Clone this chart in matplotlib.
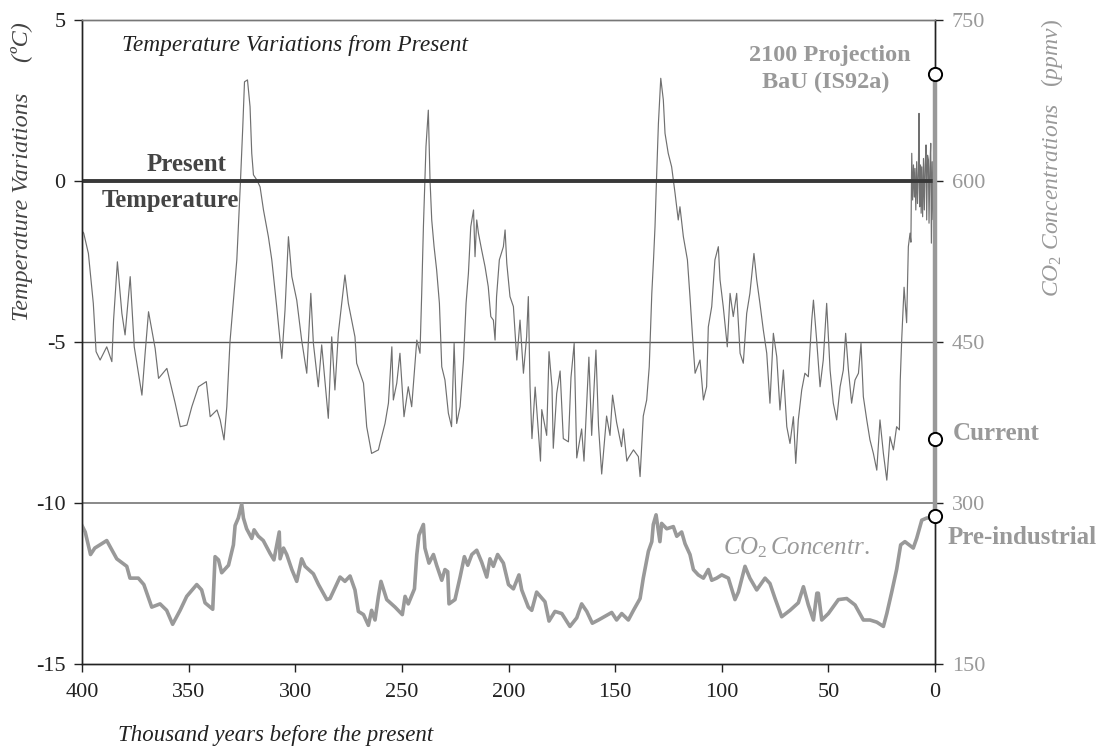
import matplotlib
matplotlib.use("Agg")
import matplotlib.pyplot as plt
import numpy as np

plt.rcParams['font.family'] = ['Liberation Serif', 'DejaVu Serif']
plt.rcParams['mathtext.fontset'] = 'custom'
plt.rcParams['mathtext.it'] = 'Liberation Serif:italic'
plt.rcParams['mathtext.rm'] = 'Liberation Serif'

# Temperature variation from present (deg C) vs age (kyr BP)
temp_age = [400.0, 399.2, 397, 394.7, 393.4, 391.5, 388.4, 386, 385.2, 383.4, 381.3, 379.8, 377.4, 375.5,
            371.9, 370.4, 368.8, 365.7, 364.1, 360.2, 356.3, 353.9, 350.8, 348.5, 345.4, 341.7, 339.9,
            336.7, 335.2, 333.4, 332.1, 330.6, 328.7, 327.4, 325.8, 324.6, 323.8, 322.4, 321.2, 320.4,
            319.6, 318, 316.5, 314.9, 312.6, 311, 308.7, 306.3, 304.8, 303.2, 301.6, 299.3, 297, 294.6,
            292.7, 291.5, 289.2, 287.6, 284.5, 282.9, 281.4, 279.8, 276.7, 275.1, 272, 271.2, 268, 266.5,
            264.2, 261, 260.3, 257.9, 256.3, 254.7, 254, 252.4, 250.9, 249, 247, 245.4, 243, 241.5, 240.7,
            239.9, 238.7, 237.6, 236.8, 236, 234.9, 233.7, 232.4, 231.3, 229.8, 228.2, 226.7, 225.5, 224.3,
            222.7, 221.1, 219.9, 218.8, 217.7, 216.4, 215.7, 214.9, 214.1, 212.6, 211, 209.5, 208.3, 207.1,
            206.3, 205.6, 204.3, 202.4, 201.6, 200.8, 199.3, 197.7, 196.1, 194.6, 193, 191.5, 190.7, 189.9,
            189.0, 187.5, 185.0, 184.4, 182.1, 181.0, 179.6, 179.0, 177.4, 175.8, 174.3, 171.9, 170.7,
            169.2, 168.0, 165.7, 164.6, 162.3, 161.0, 159.0, 157.8, 156.3, 154.0, 152.4, 151.2, 149.3,
            147.0, 146.1, 144.5, 143.8, 141.4, 139.1, 138.3, 136.8, 135.2, 134, 132.8, 132, 131.3, 130.5,
            129.7, 128.6, 127.4,
            126.6, 125.1, 123.5, 121.9, 120.4, 119.6, 118, 116.1, 114.9, 113.6, 112.5, 110.2, 108.6, 107.1,
            106.3, 104.7, 103.2, 101.6, 100.8, 99.3, 97.4, 96.1, 94.6, 93, 91.4, 89.9, 88.3, 86.8, 84.9,
            83.6, 82.1, 80.5, 78.9, 77.4, 75.8, 74.2, 72.7, 71.1, 69.5, 68, 66.4, 65.3, 64.1, 62.5, 61,
            59.4, 57.8, 57, 55.5, 53.9, 52.4, 50.8, 49.2, 47.7, 46.1, 44.5, 43, 41.9, 40.6, 39.1, 37.5,
            35.9, 34.7, 33.6, 32, 30.5, 28.9, 27.3, 25.8, 24.2, 22.6, 21.1, 19.5, 18, 16.7, 16.3, 15.6,
            14.5, 13.3, 12.5, 11.7, 11.3, 10.9, 10.5, 10.1, 9.7, 9.4, 9.0, 8.6, 8.2, 7.8, 7.5, 7.2, 6.8,
            6.5, 6.2, 5.8, 5.4, 5.0, 4.6, 4.2, 3.9, 3.5, 3.1, 2.8, 2.4, 2.0, 1.7, 1.3, 0.9, 0.5, 0.2, 0.0]
temp_val = [-1.55, -1.62, -2.25, -3.80, -5.30, -5.56, -5.15, -5.61, -4.32, -2.51, -4.11, -4.78, -2.97,
            -5.15, -6.65, -5.35, -4.06, -5.20, -6.13, -5.82, -6.90, -7.63, -7.58, -7.01, -6.39, -6.23,
            -7.32, -7.11, -7.42, -8.04, -7.01, -4.99, -3.49, -2.45, -0.18, 1.69, 3.08, 3.14, 2.31, 0.86,
            0.19, 0.03, -0.18, -0.90, -1.73, -2.45, -3.90, -5.51, -4.01, -1.73, -2.97, -3.70, -4.94,
            -5.97, -3.49, -5.04, -6.39, -5.09, -7.37, -4.84, -6.49, -4.73, -2.92, -3.80, -4.84, -5.66,
            -6.28, -7.63, -8.46, -8.35, -8.15, -7.53, -6.90, -5.15, -6.80, -6.28, -5.35, -7.32, -6.39,
            -7.01, -4.94, -5.35, -3.49, -1.42, 1.07, 2.20, 0.03, -1.21, -2.04, -2.76, -3.80, -5.77, -6.18,
            -7.21, -7.63, -5.04, -7.53, -7.01, -5.56, -3.80, -2.87, -1.42, -0.90, -2.35, -1.21, -1.62,
            -2.14, -2.66, -3.28, -4.21, -4.32, -4.94, -3.59, -2.45, -2.04, -1.52, -2.56, -3.59, -3.90,
            -5.56, -4.32, -5.97, -4.84, -3.59, -6.39,
            -8.0, -6.4, -8.7, -7.1, -7.9, -5.3, -6.4, -8.3, -6.6, -5.9, -8.0, -8.1, -6.1,
            -5.04, -8.6, -7.7, -8.7, -5.47, -7.9, -5.25, -7.6, -9.1, -7.3, -7.9, -6.65, -7.5,
            -8.25, -7.7, -8.7, -8.6, -8.35, -8.56, -9.18, -7.3, -6.8, -5.77, -3.49, -2.45, -1.42, 0.24,
            1.79, 3.19, 2.52, 1.48, 0.86, 0.44, -0.38, -1.21,
            -0.80, -1.73, -2.45, -3.59, -4.94, -5.97, -5.56, -6.80, -6.39, -4.53, -3.90, -2.45, -2.04,
            -3.07, -3.90, -5.15, -3.49, -4.21, -3.49, -5.35, -5.66, -4.11, -3.49, -2.25, -3.07, -3.80,
            -4.63, -5.35, -6.90, -4.73, -5.46, -7.11, -5.87, -7.63, -8.15, -7.32, -8.77, -7.42, -6.49,
            -5.97, -6.08, -4.32, -3.70, -4.94, -6.39, -5.56, -3.80, -5.87, -6.90, -7.42, -6.39, -5.87,
            -4.73, -5.87, -6.90, -6.18, -5.97, -5.04, -6.70, -7.42, -8.04, -8.46, -8.98, -7.42, -8.46,
            -9.29, -7.94, -8.35, -7.63, -7.73, -6.2, -4.9,
            -3.3, -4.4, -2.04, -1.62, -1.9, 0.86, -0.59, 0.5, -0.5, 0.39, -0.9, 0.6, -0.7, 0.3, 2.1, -0.8,
            0.5, -1.0, 0.44, -1.11, 0.7, -0.9, 0.5, 1.12, -1.21, 0.8, 0.65, -1.31, 0.4, 1.17, -1.93, 0.6,
            -1.2, 1.33, -1.73, -0.5]

# CO2 concentration (ppmv) vs age (kyr BP)
co2_age = [400.0, 398.5, 396, 394, 390, 388.4, 383.7, 379, 377.5, 373.6, 371, 367.3, 363.4, 360.3, 357.5,
           354, 350.9, 346.2, 343.9, 342.3, 338.7, 337.6, 336, 334.5, 331.3, 329, 328.2, 326.7, 325.1,
           324.3, 322.8, 320.4, 319.3, 317.3, 315, 311.8, 310, 307.5, 307.1, 305.5, 304, 301.6, 299.3,
           297, 295.4, 291.5, 289.1, 285.2, 283.7, 279, 276.7, 274.3, 272, 270.4, 268, 265.7, 264.2,
           262.6, 261, 259.8, 257.1, 253.2, 249.8, 248.5, 247, 244.1, 243, 242, 239.9, 239.2, 237.3,
           235.2, 233.7, 231.3, 229.8, 228.5, 227.9, 225.1, 222.7, 220.7, 219.1, 217.2, 214.9, 212.6,
           210.2, 208.7, 207.1, 205.1, 202.4, 200, 197.7, 195.1, 193.8, 190.7, 189.1, 186.8, 182.9, 181,
           178.2, 175, 171.2, 168, 165.7, 163.3, 160.7, 157.8, 151.6, 149.3, 146.9, 143.8, 141.4, 138.3,
           136.8, 134.4, 132.8, 132.1, 130.8, 129, 128.2, 125.8, 122.7, 121.1, 118.8, 117.2, 114.9,
           113.3, 111, 108.6, 106.3, 104.7, 102.4, 100, 96.9, 93.8, 92.2, 89.1, 86.8, 83.6, 79.7, 77.4,
           75, 71.9, 68, 64.1, 61.7, 59.4, 57, 55.4, 54.7, 53.1, 50, 45.3, 41.4, 37.5, 33.6, 30.5, 27.3,
           24.2, 22.6, 20.3, 18, 16.1, 14.1, 10.2, 8.6, 6.2, 3.9, 0.5]
co2_val = [279, 273, 252, 258, 263, 265, 248, 241, 230, 230, 224, 203, 206, 200, 187, 200, 213, 224, 219,
           207, 201, 250, 247, 235, 242, 261, 279, 286, 299, 286, 276, 267, 275, 269, 265, 253, 247, 273,
           248, 258, 252, 238, 227, 248, 241, 234, 224, 210, 211, 231, 227, 232, 219, 199, 196, 186, 200,
           191, 213, 227, 210, 203, 196, 213, 206, 220, 252, 270, 280, 258, 244, 252, 242, 228, 238, 236,
           206, 210, 231, 250, 242, 252, 256, 245, 231, 248, 241, 252, 244, 224, 220, 233, 219, 203, 200,
           217, 208, 190, 199, 197, 185, 193, 206, 199, 188, 191, 198, 191, 197, 191, 200, 211, 230, 255,
           264, 280, 289, 264, 281, 276, 278, 269, 273, 262, 252, 238, 233, 230, 238, 228, 230, 233, 230,
           210, 217, 241, 230, 219, 230, 225, 211, 194, 200, 207, 222, 205, 191, 216, 216, 191, 197, 210,
           211, 205, 191, 191, 189, 185, 197, 217, 238, 261, 264, 258, 267, 284, 286, 286]

# CO2 markers: pre-industrial, current, 2100 projection
marker_co2 = [288, 360, 700]

W, H = 1098, 749
fig = plt.figure(figsize=(W / 100, H / 100), dpi=100)
L, R, T, B = 82, 935, 20, 664
ax = fig.add_axes([L / W, 1 - B / H, (R - L) / W, (B - T) / H])
ax2 = ax.twinx()

ax.set_xlim(400, 0)
ax.set_ylim(-15, 5)
ax2.set_ylim(150, 750)

ax.axhline(-5, color='#555555', lw=1.0, zorder=1)
ax.axhline(-10, color='#808080', lw=1.3, zorder=1)
ax.axhline(0, color='#383838', lw=2.8, zorder=3)

ax.plot(temp_age, temp_val, color='#707070', lw=0.85, zorder=2)
ax2.plot(co2_age, co2_val, color='#999999', lw=2.6, solid_joinstyle='round', zorder=2)

ax2.plot([0, 0], [marker_co2[0], marker_co2[2]], color='#999999', lw=3.2, zorder=3, clip_on=False)
ax2.plot([0] * 3, marker_co2, 'o', ms=9.5, mfc='white', mec='black', mew=1.4, zorder=5, clip_on=False)

# spines
for a in (ax, ax2):
    for s in ['left', 'bottom', 'right']:
        a.spines[s].set_color('#222222')
    a.spines['top'].set_color('#777777')
    for s in a.spines.values():
        s.set_linewidth(1.0)

ax.set_xticks([400, 350, 300, 250, 200, 150, 100, 50, 0])
ax.set_xticklabels(['400', '350', '300', '250', '200', '150', '100', '50', '0'])
ax.set_yticks([5, 0, -5, -10, -15])
ax.set_yticklabels(['5', '0', '-5', '-10', '-15'])
ax2.set_yticks([750, 600, 450, 300, 150])
ax2.set_yticklabels(['750', '600', '450', '300', '150'])
ax.tick_params(axis='x', direction='out', length=6, width=1, labelsize=16, pad=8, colors='#222222')
ax.tick_params(axis='y', direction='out', length=6, width=1, labelsize=16, pad=6, colors='#222222')
ax2.tick_params(axis='y', direction='out', length=6, width=1, labelsize=16, pad=6, colors='#222222',
                labelcolor='#999999')

# texts
ax.text(381.2, 4.22, 'Temperature Variations from Present', fontsize=16.8, style='italic',
        color='#222222', ha='left', va='center')
ax.text(350.8, 0.5, 'Present', fontsize=18, weight='bold', color='#444444', ha='center', va='center')
ax.text(358.7, -0.6, 'Temperature', fontsize=17.8, weight='bold', color='#444444', ha='center',
        va='center')
ax.text(49.2, 3.91, '2100 Projection', fontsize=17.5, weight='bold', color='#999999', ha='center',
        va='center')
ax.text(51.0, 3.07, 'BaU (IS92a)', fontsize=17.5, weight='bold', color='#999999', ha='center',
        va='center')
ax.text(-8.4, -7.85, 'Current', fontsize=18, weight='bold', color='#999999', ha='left', va='center',
        clip_on=False)
ax.text(-6.1, -11.06, 'Pre-industrial', fontsize=18, weight='bold', color='#999999', ha='left',
        va='center', clip_on=False)
ax.text(99.4, -11.4, r'$CO_{2}\,Concentr.$', fontsize=18, color='#999999', ha='left', va='center')

fig.text(22 / W, 1 - 172 / H, 'Temperature Variations     (ºC)', fontsize=17.5, style='italic',
         color='#444444', rotation=90, ha='center', va='center')
fig.text(1052 / W, 1 - 158 / H, r'$CO_{2}\ Concentrations\ \ \ (ppmv)$', fontsize=17,
         color='#999999', rotation=90, ha='center', va='center')
fig.text(118 / W, 1 - 735 / H, 'Thousand years before the present', fontsize=16.5, style='italic',
         color='#222222', ha='left', va='center')

fig.savefig('out.png', dpi=100)
